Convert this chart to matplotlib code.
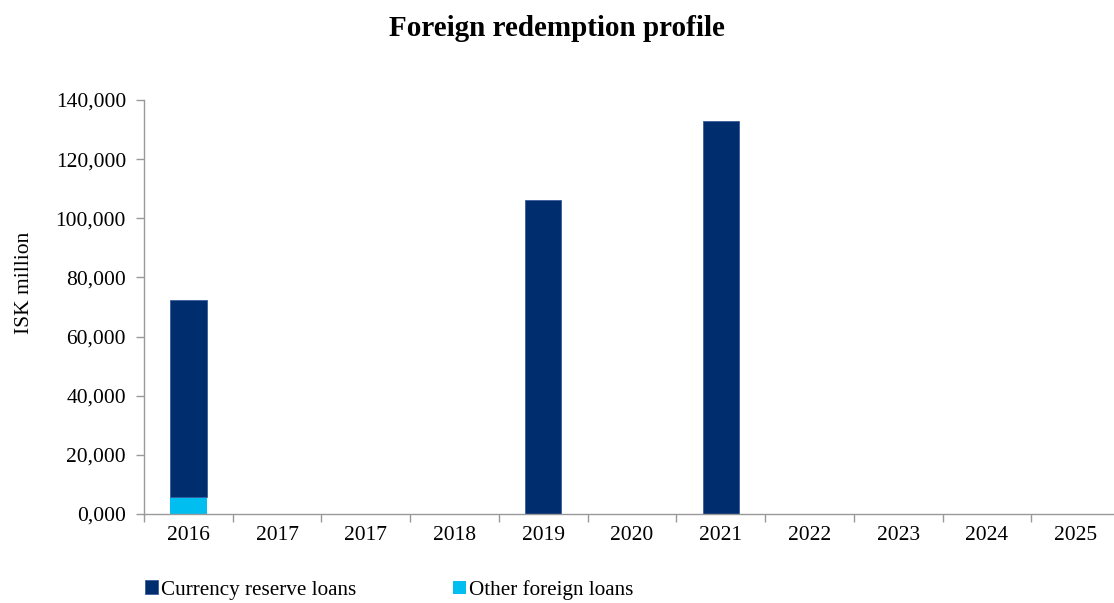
import matplotlib
matplotlib.use("Agg")
import matplotlib.pyplot as plt
from matplotlib.ticker import FuncFormatter, FixedLocator
import numpy as np

years = ["2016", "2017", "2017", "2018", "2019", "2020", "2021", "2022", "2023", "2024", "2025"]
currency_reserve = [66700, 0, 0, 0, 106100, 0, 133000, 0, 0, 0, 0]
other_foreign = [5800, 0, 0, 0, 0, 0, 0, 0, 0, 0, 0]

plt.rcParams["font.family"] = ["Liberation Serif", "DejaVu Serif"]

W, H = 1114, 603
fig = plt.figure(figsize=(W / 100, H / 100), dpi=100)
left, right, top, bottom = 144, 1120, 100, 514
ax = fig.add_axes([left / W, 1 - bottom / H, (right - left) / W, (bottom - top) / H])

navy = "#002D6E"
cyan = "#00BFF0"
x = np.arange(len(years))
width = 0.41
b_other = ax.bar(x, other_foreign, width, color=cyan, label="Other foreign loans", zorder=2)
b_curr = ax.bar(x, currency_reserve, width, bottom=other_foreign, color=navy,
                edgecolor="#3A5C9A", linewidth=0.6, label="Currency reserve loans", zorder=2)

ax.set_xlim(-0.5, len(years) - 0.5)
ax.set_ylim(0, 140000)
ax.set_yticks(np.arange(0, 140001, 20000))
ax.yaxis.set_major_formatter(FuncFormatter(lambda v, p: "0,000" if v == 0 else f"{int(v):,}"))

fs = 15.5
ax.set_xticks(x)
ax.set_xticklabels(years)
ax.xaxis.set_minor_locator(FixedLocator(np.arange(-0.5, len(years), 1.0)))
ax.tick_params(axis="x", which="major", length=0, pad=9, labelsize=fs)
ax.tick_params(axis="x", which="minor", length=6, width=1, color="#999999", direction="out")
ax.tick_params(axis="y", length=6, width=1, color="#999999", direction="out", pad=7, labelsize=fs)

for side in ["top", "right"]:
    ax.spines[side].set_visible(False)
for side in ["left", "bottom"]:
    ax.spines[side].set_color("#999999")
    ax.spines[side].set_linewidth(1)

ax.set_ylabel("ISK million", fontsize=fs, va="center")
ax.yaxis.set_label_coords((25 - left) / (right - left), (bottom - 283) / (bottom - top))
fig.text(0.5, 1 - 28 / H, "Foreign redemption profile", ha="center", va="center",
         fontsize=21, fontweight="bold")

# one legend entry per series, placed along the bottom
lfs = 15.2
for handle, label, xpix in [(b_curr, "Currency reserve loans", 145),
                            (b_other, "Other foreign loans", 453)]:
    fig.legend([handle], [label], loc="center left",
               bbox_to_anchor=(xpix / W, 1 - 590 / H),
               frameon=False, fontsize=lfs, handlelength=0.62, handleheight=0.62,
               handletextpad=0.14, borderpad=0, borderaxespad=0)

fig.savefig("out.png", dpi=100)
